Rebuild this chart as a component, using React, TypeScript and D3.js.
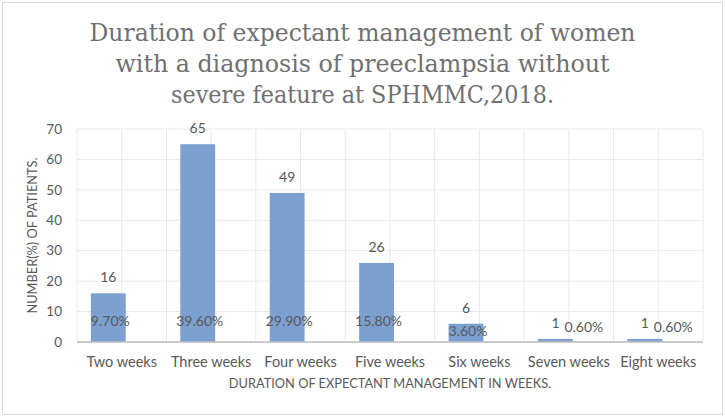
import React from "react";
import * as d3 from "d3";

const categories = ["Two weeks", "Three weeks", "Four weeks", "Five weeks", "Six weeks", "Seven weeks", "Eight weeks"];
const counts = [16, 65, 49, 26, 6, 1, 1];
const percentLabels = ["9.70%", "39.60%", "29.90%", "15.80%", "3.60%", "0.60%", "0.60%"];
const yTickValues = [0, 10, 20, 30, 40, 50, 60, 70];
const titleLines = [
  "Duration of expectant management of women",
  "with a diagnosis of preeclampsia without",
  "severe feature at SPHMMC,2018.",
];
const titleWidths = [546, 494, 383];

const W = 725;
const H = 417;
const plot = { left: 77, right: 703, top: 129, bottom: 342 };
const labelColor = "#595959";
const barColor = "#7ca0d0";
const font = "Lato, 'Open Sans', sans-serif";

const App: React.FC = () => {
  const x = d3.scaleBand<string>().domain(categories).range([plot.left, plot.right]).padding(0);
  const y = d3.scaleLinear().domain([0, 70]).range([plot.bottom, plot.top]);
  const bw = x.bandwidth();
  const barW = bw * 0.39;

  // vertical gridlines at every half category
  const vLines = d3.range(0, categories.length * 2 + 1).map((i) => plot.left + (i * bw) / 2);

  return (
    <svg width={W} height={H} style={{ position: "absolute", left: 0, top: 0, background: "#fff" }}>
      <rect x={2.5} y={2.5} width={W - 5} height={H - 5} fill="#fff" stroke="#d9d9d9" strokeWidth={1} />

      {titleLines.map((t, i) => (
        <text
          key={t}
          x={W / 2}
          y={41 + i * 31}
          textAnchor="middle"
          fontFamily="'DejaVu Serif Condensed', 'DejaVu Serif', serif"
          fontSize={24}
          textLength={titleWidths[i]}
          lengthAdjust="spacingAndGlyphs"
          fill="#707070"
        >
          {t}
        </text>
      ))}

      {/* gridlines */}
      {yTickValues.map((v) => (
        <line key={"h" + v} x1={plot.left} x2={plot.right} y1={y(v)} y2={y(v)} stroke="#e8e8e8" strokeWidth={1} />
      ))}
      {vLines.map((vx, i) => (
        <line key={"v" + i} x1={vx} x2={vx} y1={plot.top} y2={plot.bottom} stroke="#e8e8e8" strokeWidth={1} />
      ))}

      {/* bars */}
      {categories.map((c, i) => {
        const bx = (x(c) || 0) + bw * 0.155;
        return (
          <rect key={c} x={bx} y={y(counts[i])} width={barW} height={plot.bottom - y(counts[i])} fill={barColor} />
        );
      })}

      {/* baseline */}
      <line x1={plot.left} x2={plot.right} y1={plot.bottom} y2={plot.bottom} stroke="#bfbfbf" strokeWidth={1.5} />

      {/* y ticks */}
      {yTickValues.map((v) => (
        <text key={"yt" + v} x={62} y={y(v)} dy="0.35em" textAnchor="end" fontFamily={font} fontSize={13.5} fill={labelColor}>
          {v}
        </text>
      ))}

      {/* category labels */}
      {categories.map((c) => (
        <text key={"xl" + c} x={(x(c) || 0) + bw / 2} y={362} dy="0.35em" textAnchor="middle" fontFamily={font} fontSize={14.5} fill={labelColor}>
          {c}
        </text>
      ))}

      {/* data labels */}
      {categories.map((c, i) => {
        const cx = (x(c) || 0) + bw * 0.155 + barW / 2;
        const top = y(counts[i]);
        const small = counts[i] < 3;
        return (
          <g key={"dl" + c} fontFamily={font} fill={labelColor}>
            <text x={cx} y={top - 16} dy="0.35em" textAnchor="middle" fontSize={14}>
              {counts[i]}
            </text>
            <text
              x={small ? cx + 9 : cx + 2}
              y={small ? top - 12 : Math.max(y(7), top + 7)}
              dy="0.35em"
              textAnchor={small ? "start" : "middle"}
              fontSize={14}
            >
              {percentLabels[i]}
            </text>
          </g>
        );
      })}

      {/* axis titles */}
      <text x={(plot.left + plot.right) / 2} y={384} dy="0.35em" textAnchor="middle" fontFamily={font} fontSize={12.8} fill={labelColor}>
        DURATION OF EXPECTANT MANAGEMENT IN WEEKS.
      </text>
      <text
        transform={`translate(33, ${(plot.top + plot.bottom) / 2}) rotate(-90)`}
        dy="0.35em"
        textAnchor="middle"
        fontFamily={font}
        fontSize={12.8}
        fill={labelColor}
      >
        NUMBER(%) OF PATIENTS.
      </text>
    </svg>
  );
};

export default App;
